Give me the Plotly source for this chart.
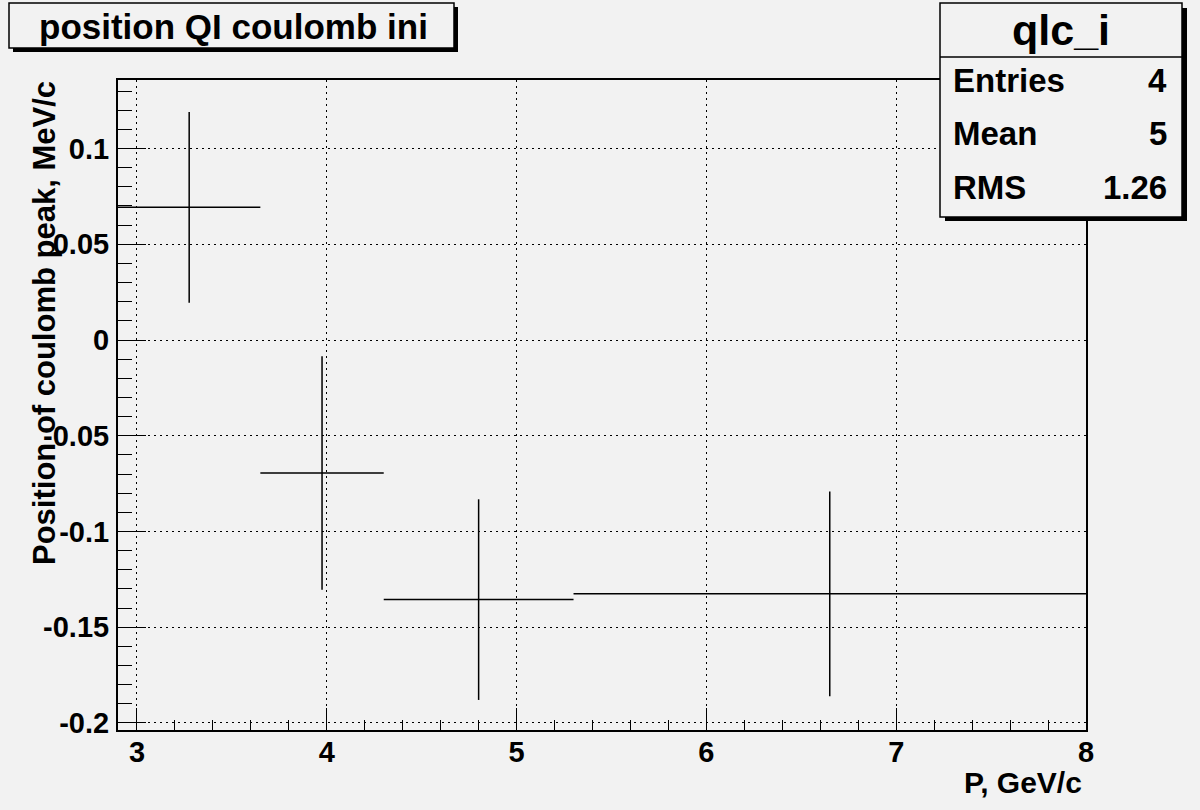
import plotly.graph_objects as go

# ---- data ----
bin_edges = [2.9, 3.65, 4.3, 5.3, 8.0]
values = [0.0693, -0.0695, -0.1356, -0.1326]
errors = [0.0498, 0.0610, 0.0524, 0.0535]

x_tickvals = [3, 4, 5, 6, 7, 8]
x_ticktext = ["3", "4", "5", "6", "7", "8"]
y_tickvals = [-0.2, -0.15, -0.1, -0.05, 0, 0.05, 0.1]
y_ticktext = ["-0.2", "-0.15", "-0.1", "-0.05", "0", "0.05", "0.1"]

title_text = "position QI coulomb ini"
stats_name = "qlc_i"
stats_labels = ["Entries", "Mean", "RMS"]
stats_values = ["4", "5", "1.26"]
x_title = "P, GeV/c"
y_title = "Position of coulomb peak, MeV/c"

# ---- layout geometry (pixels) ----
FW, FH = 1200, 810
L, R, T, B = 118, 1086, 80, 730
W, H = R - L, B - T
BG = "#f2f2f2"
FONT = "Liberation Sans"


def px(x):
    return (x - L) / W


def py(y):
    return (B - y) / H


lo = bin_edges[:-1]
hi = bin_edges[1:]
centers = [(a + b) / 2 for a, b in zip(lo, hi)]

fig = go.Figure()
fig.add_trace(go.Scatter(
    x=centers, y=values, mode="markers",
    marker=dict(size=0, color="black", opacity=0),
    error_x=dict(type="data", symmetric=False,
                 array=[h - c for h, c in zip(hi, centers)],
                 arrayminus=[c - l for c, l in zip(centers, lo)],
                 width=0, thickness=1.5, color="black"),
    error_y=dict(type="data", array=errors, width=0, thickness=1.5, color="black"),
    showlegend=False, hoverinfo="skip",
))

tickfont = dict(family=FONT, size=29, color="black", weight="bold")

fig.update_xaxes(
    range=[2.9, 8.0], tickmode="array", tickvals=x_tickvals, ticktext=x_ticktext,
    ticks="inside", ticklen=22, tickwidth=1, tickcolor="black",
    showline=True, linewidth=2, linecolor="black", mirror=True,
    showgrid=True, gridcolor="black", gridwidth=1, griddash="2px,4px",
    zeroline=False, tickfont=tickfont, ticklabelstandoff=-5,
    minor=dict(tickmode="linear", tick0=3, dtick=0.2, ticks="inside", ticklen=10,
               tickcolor="black", tickwidth=1, showgrid=False),
)
fig.update_yaxes(
    range=[-0.2037, 0.1358], tickmode="array", tickvals=y_tickvals, ticktext=y_ticktext,
    ticks="inside", ticklen=28, tickwidth=1, tickcolor="black",
    showline=True, linewidth=2, linecolor="black", mirror=True,
    showgrid=True, gridcolor="black", gridwidth=1, griddash="2px,4px",
    zeroline=False, tickfont=tickfont, ticklabelstandoff=1,
    minor=dict(tickmode="linear", tick0=0, dtick=0.01, ticks="inside", ticklen=14,
               tickcolor="black", tickwidth=1, showgrid=False),
)

shapes = [
    # title box shadow + box
    dict(type="rect", xref="paper", yref="paper", x0=px(13), x1=px(458), y0=py(52), y1=py(7),
         fillcolor="black", line=dict(width=0)),
    dict(type="rect", xref="paper", yref="paper", x0=px(9), x1=px(454), y0=py(48), y1=py(3),
         fillcolor=BG, line=dict(color="black", width=1.5)),
    # stats box shadow + box
    dict(type="rect", xref="paper", yref="paper", x0=px(945), x1=px(1187), y0=py(221), y1=py(8),
         fillcolor="black", line=dict(width=0)),
    dict(type="rect", xref="paper", yref="paper", x0=px(940), x1=px(1182), y0=py(217), y1=py(3),
         fillcolor=BG, line=dict(color="black", width=1.5)),
    dict(type="line", xref="paper", yref="paper", x0=px(940), x1=px(1182), y0=py(57), y1=py(57),
         line=dict(color="black", width=1.5)),
]

annotations = [
    dict(text=title_text, x=px(233), y=py(26), xanchor="center", yanchor="middle",
         font=dict(family=FONT, size=35, color="black", weight="bold")),
    dict(text=stats_name, x=px(1061), y=py(30), xanchor="center", yanchor="middle",
         font=dict(family=FONT, size=43, color="black", weight="bold")),
    dict(text=x_title, x=px(1084), y=py(782), xanchor="right", yanchor="middle",
         font=dict(family=FONT, size=30, color="black", weight="bold")),
    dict(text=y_title, x=px(44), y=py(79), xanchor="center", yanchor="top", textangle=-90,
         font=dict(family=FONT, size=31, color="black", weight="bold")),
]
row_y = [81, 133, 187]
for lab, val, yy in zip(stats_labels, stats_values, row_y):
    annotations.append(dict(text=lab, x=px(951), y=py(yy), xanchor="left", yanchor="middle",
                            font=dict(family=FONT, size=33, color="black", weight="bold")))
    annotations.append(dict(text=val, x=px(1169), y=py(yy), xanchor="right", yanchor="middle",
                            font=dict(family=FONT, size=33, color="black", weight="bold")))
for a in annotations:
    a.update(xref="paper", yref="paper", showarrow=False)

fig.update_layout(
    width=FW, height=FH,
    margin=dict(l=L, r=FW - R, t=T, b=FH - B, pad=0),
    paper_bgcolor=BG, plot_bgcolor=BG,
    shapes=shapes, annotations=annotations,
    showlegend=False,
)

fig.write_html("out.html")
